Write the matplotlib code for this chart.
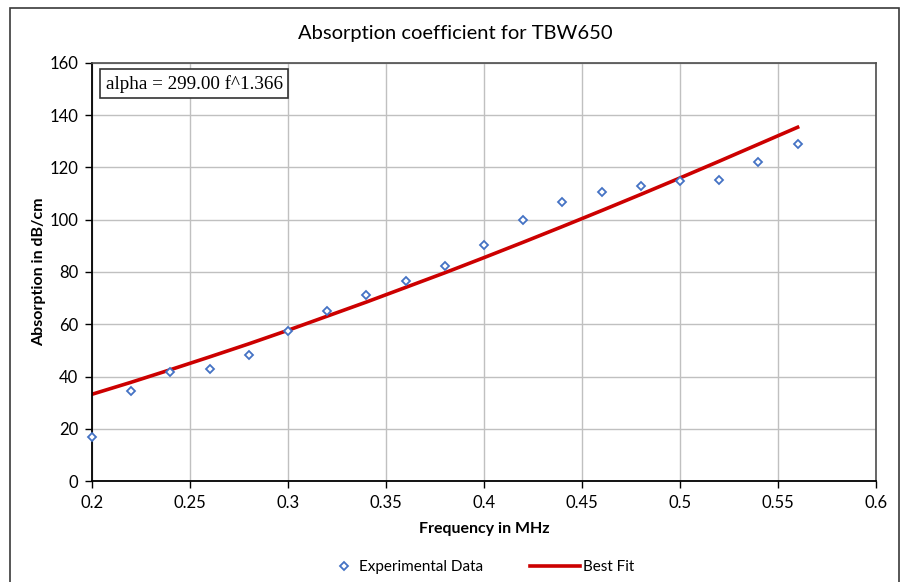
import numpy as np
from matplotlib import pyplot as plt
from matplotlib.patches import Rectangle

freq = [0.20, 0.22, 0.24, 0.26, 0.28, 0.30, 0.32, 0.34, 0.36, 0.38,
        0.40, 0.42, 0.44, 0.46, 0.48, 0.50, 0.52, 0.54, 0.56]
absorption = [16.8, 34.6, 41.8, 43.0, 48.3, 57.4, 65.1, 71.2, 76.5, 82.3,
              90.3, 99.9, 106.8, 110.6, 112.9, 114.8, 115.2, 122.1, 129.0]
best_fit = [33.2, 37.8, 42.6, 47.5, 52.5, 57.7, 63.1, 68.5, 74.1, 79.7,
            85.5, 91.4, 97.4, 103.5, 109.7, 116.0, 122.4, 128.9, 135.4]

title = 'Absorption coefficient for TBW650'
fit_text = 'alpha = 299.00 f^1.366'
x_ticks = [0.2, 0.25, 0.3, 0.35, 0.4, 0.45, 0.5, 0.55, 0.6]
x_labels = ['0.2', '0.25', '0.3', '0.35', '0.4', '0.45', '0.5', '0.55', '0.6']
y_ticks = [0, 20, 40, 60, 80, 100, 120, 140, 160]

plt.rcParams['font.family'] = ['Lato', 'DejaVu Sans']

fig = plt.figure(figsize=(9.01, 5.82), dpi=100)
ax = fig.add_axes([92 / 901, 1 - 481 / 582, 784 / 901, 418 / 582])

# outer chart frame (bottom edge lies below the image)
fig.patches.append(Rectangle((10 / 901, -0.05), 889 / 901, 1.05 - 8 / 582,
                             transform=fig.transFigure, fill=False,
                             edgecolor='#3a3a3a', lw=1.2, clip_on=False))

pts, = ax.plot(freq, absorption, linestyle='none', marker='D', markersize=4.2,
               markerfacecolor='white', markeredgecolor='#4472C4', markeredgewidth=1.3,
               label='Experimental Data', zorder=3, clip_on=False)
fit, = ax.plot(freq, best_fit, color='#CC0000', lw=2.6, label='Best Fit', zorder=2)

ax.set_xlim(0.2, 0.6)
ax.set_ylim(0, 160)
ax.set_xticks(x_ticks)
ax.set_xticklabels(x_labels)
ax.set_yticks(y_ticks)
ax.grid(True, color='#C0C0C0', lw=1)
ax.set_axisbelow(True)
ax.tick_params(direction='out', length=5, width=1, labelsize=12, colors='black', pad=5)

for side in ['left', 'bottom']:
    ax.spines[side].set_color('black')
    ax.spines[side].set_linewidth(1.3)
for side in ['top', 'right']:
    ax.spines[side].set_color('#4d4d4d')
    ax.spines[side].set_linewidth(1.2)

ax.set_xlabel('Frequency in MHz', fontsize=11.5, fontweight='bold', labelpad=8)
ax.set_ylabel('Absorption in dB/cm', fontsize=11.5, fontweight='bold', labelpad=2)

fig.text(455 / 901, 1 - 33 / 582, title, ha='center', va='center', fontsize=14.5)

ax.text(0.0175, 0.972, fit_text, transform=ax.transAxes, ha='left', va='top',
        fontsize=13.8, family=['Liberation Serif', 'DejaVu Serif'],
        bbox=dict(boxstyle='square,pad=0.28', facecolor='white',
                  edgecolor='#333333', lw=1.2))

leg1 = fig.legend(handles=[pts], loc='center left',
                  bbox_to_anchor=(336 / 901, 1 - 567 / 582), frameon=False,
                  fontsize=11, handlelength=1.0, handletextpad=0.5,
                  borderpad=0, borderaxespad=0)
leg2 = fig.legend(handles=[fit], loc='center left',
                  bbox_to_anchor=(530 / 901, 1 - 567 / 582), frameon=False,
                  fontsize=11, handlelength=3.3, handletextpad=0.15,
                  borderpad=0, borderaxespad=0)

fig.savefig('out.png', dpi=100)
